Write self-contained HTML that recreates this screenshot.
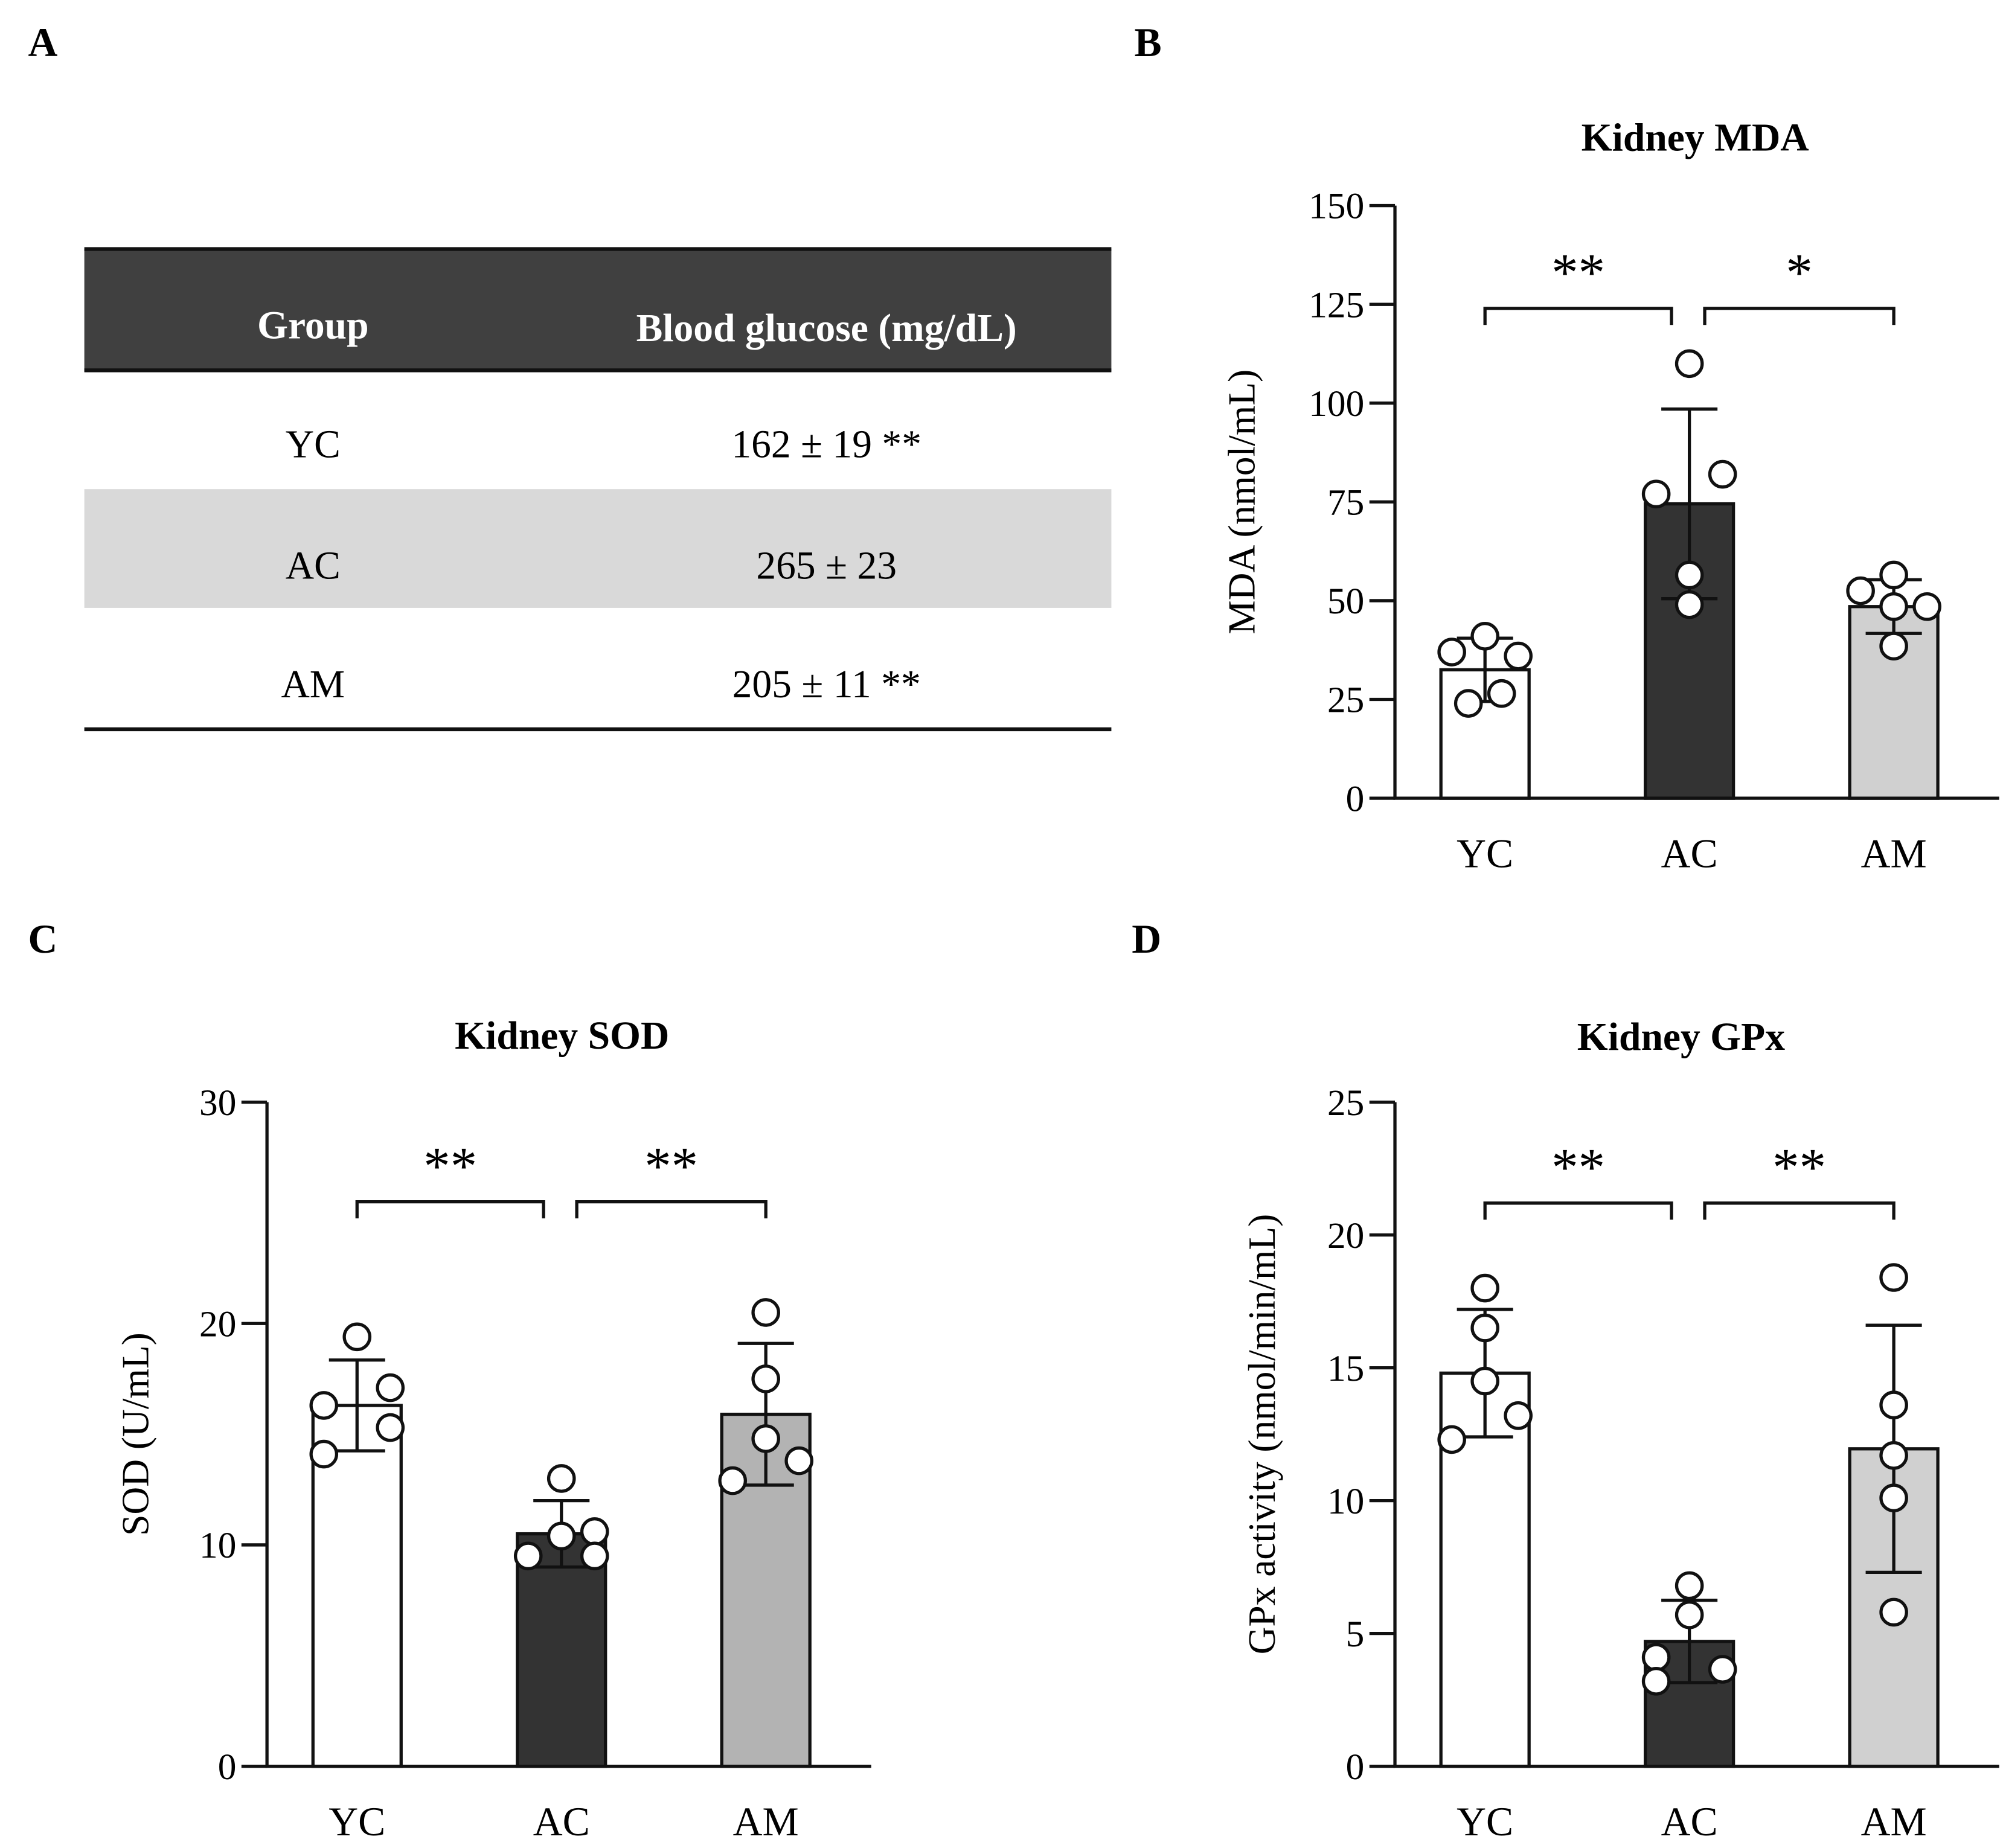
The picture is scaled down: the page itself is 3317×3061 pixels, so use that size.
<!DOCTYPE html>
<html><head><meta charset="utf-8"><style>
html,body{margin:0;padding:0;background:#fff;}
svg{display:block;font-family:"Liberation Serif",serif;}
</style></head><body>
<svg id="fig" width="3317" height="3061" viewBox="0 0 1568 1447" xmlns="http://www.w3.org/2000/svg">
<g font-weight="bold" font-size="32">
<text x="22" y="44">A</text>
<text x="888" y="44">B</text>
<text x="22" y="746">C</text>
<text x="886" y="746">D</text>
</g>
<g font-size="31">
<rect x="66" y="195" width="804" height="96" fill="#404040"/>
<line x1="66" y1="195" x2="870" y2="195" stroke="#111" stroke-width="3"/>
<line x1="66" y1="290" x2="870" y2="290" stroke="#111" stroke-width="3"/>
<text x="245" y="265" fill="#fff" font-weight="bold" text-anchor="middle">Group</text>
<text x="647" y="267" fill="#fff" font-weight="bold" text-anchor="middle">Blood glucose (mg/dL)</text>
<rect x="66" y="383" width="804" height="93" fill="#d9d9d9"/>
<text x="245" y="358" text-anchor="middle">YC</text>
<text x="647" y="358" text-anchor="middle">162 ± 19 **</text>
<text x="245" y="453" text-anchor="middle">AC</text>
<text x="647" y="453" text-anchor="middle">265 ± 23</text>
<text x="245" y="546" text-anchor="middle">AM</text>
<text x="647" y="546" text-anchor="middle">205 ± 11 **</text>
<line x1="66" y1="571" x2="870" y2="571" stroke="#111" stroke-width="3"/>
</g>
</svg>
<script>
const categories = ["YC","AC","AM"];
const mdaMeans = [32.5, 74.5, 48.5];
const mdaSD = [8, 24, 6.8];
const mdaPoints = [[37,41,36,24,26.5],[77,110,82,56.5,49],[52.5,56.5,48.5,48.5,38.5]];
const mdaTicks = [0,25,50,75,100,125,150];
const sodMeans = [16.3, 10.5, 15.9];
const sodSD = [2.05, 1.5, 3.2];
const sodPoints = [[16.3,19.4,17.1,14.1,15.3],[13.0,10.4,10.6,9.5,9.5],[20.5,17.5,14.8,12.9,13.8]];
const sodTicks = [0,10,20,30];
const gpxMeans = [14.8, 4.7, 11.95];
const gpxSD = [2.4, 1.55, 4.65];
const gpxPoints = [[18.0,16.5,14.5,12.3,13.2],[6.8,5.7,4.1,3.2,3.65],[18.4,13.6,11.7,10.1,5.8]];
const gpxTicks = [0,5,10,15,20,25];

const mdaJitter = [[-1,0,1,-0.5,0.5],[-1,0,1,0,0],[-1,0,1,0,0]];
const sodJitter = [[-1,0,1,-1,1],[0,0,1,-1,1],[0,0,0,-1,1]];
const gpxJitter = [[0,0,0,-1,1],[0,0,-1,-1,1],[0,0,0,0,0]];
const NS="http://www.w3.org/2000/svg";
const svg=document.getElementById('fig');
function mk(tag,attrs,parent,text){const e=document.createElementNS(NS,tag);for(const k in attrs)e.setAttribute(k,attrs[k]);if(text!==undefined)e.textContent=text;parent.appendChild(e);return e;}

function chart(cfg){
  const g=mk('g',{},svg);
  
  
  const ax=cfg.axX, y0=cfg.y0, yTop=cfg.yTop, max=cfg.ticks[cfg.ticks.length-1];
  const Y=v=>y0-(v/max)*(y0-yTop);
  const barL=[ax+36, ax+196, ax+356], bw=69;
  const X=i=>barL[i]+bw/2;
  const t=mk('text',{x:cfg.titleX,y:cfg.titleY,'text-anchor':'middle','font-weight':'bold','font-size':31},g,cfg.title);
  
  
  const yl=mk('text',{transform:`translate(${cfg.ylX},${(y0+yTop)/2}) rotate(-90)`,'text-anchor':'middle','font-size':30},g,cfg.ylabel);
  
  
  const axis=mk('path',{d:`M${ax},${yTop} L${ax},${y0} L${ax+473},${y0}`,stroke:'#111','stroke-width':2.5,fill:'none'},g);
  
  
  cfg.ticks.forEach(v=>{
    mk('line',{x1:ax-20,x2:ax,y1:Y(v),y2:Y(v),stroke:'#111','stroke-width':2.5},g);
    const tl=mk('text',{x:ax-24,y:Y(v)+10,'text-anchor':'end','font-size':29},g,String(v));
    
    
  });
  categories.forEach((c,i)=>{
    const b=mk('rect',{x:barL[i],y:Y(cfg.means[i]),width:bw,height:y0-Y(cfg.means[i]),fill:cfg.fills[i],stroke:'#111','stroke-width':2.5},g);
    
    
    const xl=mk('text',{x:X(i),y:y0+54,'text-anchor':'middle','font-size':32},g,c);
    
    
    const hi=Y(cfg.means[i]+cfg.sd[i]), lo=Y(cfg.means[i]-cfg.sd[i]);
    const eb=mk('path',{d:`M${X(i)},${hi} L${X(i)},${lo} M${X(i)-22},${hi} L${X(i)+22},${hi} M${X(i)-22},${lo} L${X(i)+22},${lo}`,stroke:'#111','stroke-width':2.5,fill:'none'},g);
    
    
    cfg.points[i].forEach((v,j)=>{
      const p=mk('circle',{cx:X(i)+cfg.jitter[i][j]*26,cy:Y(v),r:10,fill:'#fff',stroke:'#111','stroke-width':2.5},g);
      
      
    });
  });
  const by=Y(cfg.bracketV), bt=by+13;
  const pairs=[[0,1],[1,2]];
  pairs.forEach((pr,k)=>{
    const x1=X(pr[0])+(k===1?12:0), x2=X(pr[1])-(k===0?14:0);
    const br=mk('path',{d:`M${x1},${bt} L${x1},${by} L${x2},${by} L${x2},${bt}`,stroke:'#111','stroke-width':2.5,fill:'none'},g);
    
    
    const s=mk('text',{x:(x1+x2)/2,y:by-14,'text-anchor':'middle','font-size':42},g,cfg.stars[k]);
    
    
  });
}
chart({name:'kidney-mda-chart',title:'Kidney MDA',titleX:1327,titleY:118,ylabel:'MDA (nmol/mL)',ylX:982,axX:1092,y0:625,yTop:161,ticks:mdaTicks,means:mdaMeans,sd:mdaSD,points:mdaPoints,jitter:mdaJitter,fills:['#fff','#333','#d0d0d0'],bracketV:124,stars:['**','*']});
chart({name:'kidney-sod-chart',title:'Kidney SOD',titleX:440,titleY:821,ylabel:'SOD (U/mL)',ylX:116,axX:209,y0:1383,yTop:863,ticks:sodTicks,means:sodMeans,sd:sodSD,points:sodPoints,jitter:sodJitter,fills:['#fff','#333','#b3b3b3'],bracketV:25.5,stars:['**','**']});
chart({name:'kidney-gpx-chart',title:'Kidney GPx',titleX:1316,titleY:822,ylabel:'GPx activity (nmol/min/mL)',ylX:998,axX:1092,y0:1383,yTop:863,ticks:gpxTicks,means:gpxMeans,sd:gpxSD,points:gpxPoints,jitter:gpxJitter,fills:['#fff','#333','#d0d0d0'],bracketV:21.2,stars:['**','**']});
</script>
</body></html>
